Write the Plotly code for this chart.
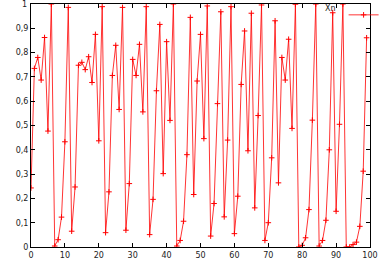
import plotly.graph_objects as go

n_index = list(range(100))
xn_values = [
    0.243, 0.735, 0.780, 0.687, 0.862, 0.477, 1.000, 0.004, 0.030, 0.123,
    0.433, 0.986, 0.065, 0.247, 0.748, 0.760, 0.730, 0.783, 0.677, 0.875,
    0.437, 0.989, 0.059, 0.227, 0.706, 0.830, 0.566, 0.986, 0.069, 0.261,
    0.772, 0.706, 0.834, 0.556, 0.989, 0.051, 0.196, 0.643, 0.916, 0.302,
    0.845, 0.521, 1.000, 0.004, 0.027, 0.106, 0.380, 0.945, 0.216, 0.683,
    0.875, 0.446, 0.992, 0.045, 0.179, 0.590, 0.968, 0.124, 0.440, 0.989,
    0.055, 0.209, 0.669, 0.889, 0.396, 0.962, 0.161, 0.541, 0.996, 0.027,
    0.100, 0.367, 0.931, 0.264, 0.780, 0.687, 0.855, 0.488, 0.999, 0.000,
    0.007, 0.038, 0.154, 0.522, 1.000, 0.004, 0.027, 0.110, 0.400, 0.964,
    0.147, 0.505, 1.000, 0.000, 0.000, 0.010, 0.020, 0.085, 0.312, 0.861,
]

x_ticks = list(range(0, 101, 10))
y_ticks = [i / 10 for i in range(11)]
y_tick_labels = ["0"] + ["0,%d" % i for i in range(1, 10)] + ["1"]
series_label = "Xn"

fig = go.Figure()
fig.add_trace(go.Scatter(
    x=n_index, y=xn_values, mode="lines+markers", name=" ",
    line=dict(color="#ff0000", width=0.8),
    marker=dict(symbol="cross-thin", size=4, line=dict(color="#ff0000", width=1)),
))

font = dict(family="DejaVu Sans", size=8, color="#222222")

# top tick label (the library hides the one at the very top edge)
fig.add_annotation(x=0, xref="paper", y=y_ticks[-1], yref="y", text=y_tick_labels[-1],
                   showarrow=False, xanchor="right", yanchor="middle", xshift=-2,
                   font=font)

fig.update_layout(
    width=381, height=267,
    margin=dict(l=31, r=11, t=4, b=20, autoexpand=False),
    paper_bgcolor="white", plot_bgcolor="white",
    font=font,
    showlegend=True,
    legend=dict(x=1.065, y=1.015, xanchor="right", yanchor="top", bgcolor="rgba(0,0,0,0)",
                font=font, itemwidth=30, borderwidth=0, valign="middle",
                title=dict(text=series_label, side="left", font=font)),
    xaxis=dict(range=[0, 100], tickvals=x_ticks, ticks="inside", ticklen=4,
               tickcolor="black", showgrid=False, zeroline=False,
               showline=True, linecolor="black", linewidth=1, mirror="ticks",
               tickfont=font, ticklabeloverflow="allow"),
    yaxis=dict(range=[0, 1], tickvals=y_ticks[:-1], ticktext=y_tick_labels[:-1], ticks="inside",
               ticklen=4, tickcolor="black", showgrid=False, zeroline=False,
               showline=True, linecolor="black", linewidth=1, mirror="ticks",
               tickfont=font, ticklabeloverflow="allow", automargin=False),
)
fig.write_html("out.html")
